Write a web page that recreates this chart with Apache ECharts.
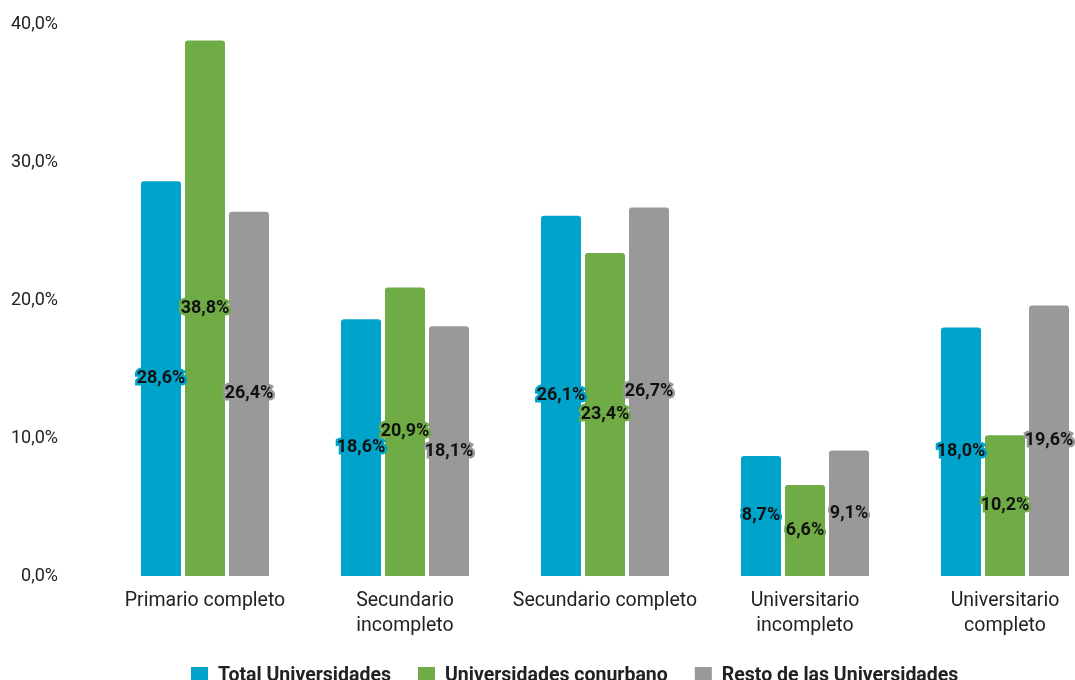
<!DOCTYPE html>
<html>
<head>
<meta charset="utf-8">
<script src="https://cdn.jsdelivr.net/npm/echarts@6/dist/echarts.min.js"></script>
<style>html,body{margin:0;padding:0;background:#fff;overflow:hidden}#c{width:1105px;height:680px}</style>
</head>
<body>
<div id="c"></div>
<script>
var categories = ['Primario completo', 'Secundario\nincompleto', 'Secundario completo', 'Universitario\nincompleto', 'Universitario\ncompleto'];
var seriesNames = ['Total Universidades', 'Universidades conurbano', 'Resto de las Universidades'];
var totalUniv = [28.6, 18.6, 26.1, 8.7, 18.0];
var conurbano = [38.8, 20.9, 23.4, 6.6, 10.2];
var resto = [26.4, 18.1, 26.7, 9.1, 19.6];
var colors = ['#00A3C9', '#6FAC46', '#999999'];
var yTicks = [0, 10, 20, 30, 40];

function fmt(v) { return v.toFixed(1).replace('.', ',') + '%'; }

var chart = echarts.init(document.getElementById('c'));
var data = [totalUniv, conurbano, resto];
chart.setOption({
  animation: false,
  textStyle: { fontFamily: 'Roboto' },
  grid: { left: 105, right: 0, top: 24, bottom: 104 },
  legend: {
    left: 186, top: 661, itemWidth: 17, itemHeight: 18, itemGap: 27,
    icon: 'rect',
    textStyle: { fontSize: 19.5, fontWeight: 'bold', color: '#222', fontFamily: 'Roboto', padding: [0, 0, 0, 5] },
    data: seriesNames
  },
  xAxis: {
    type: 'category', data: categories,
    axisLine: { show: false }, axisTick: { show: false },
    axisLabel: { fontSize: 19.5, color: '#222', margin: 13, lineHeight: 25, interval: 0 }
  },
  yAxis: {
    type: 'value', min: yTicks[0], max: yTicks[yTicks.length - 1], interval: 10,
    splitLine: { show: false }, axisLine: { show: false }, axisTick: { show: false },
    axisLabel: { fontSize: 18, color: '#222', margin: 47, formatter: function (v) { return fmt(v); } }
  },
  series: data.map(function (d, i) {
    return {
      name: seriesNames[i], type: 'bar', data: d, barWidth: 40, barGap: '10%',
      itemStyle: { color: colors[i], borderRadius: [3, 3, 0, 0] },
      label: {
        show: true, position: 'inside', fontSize: 18, fontWeight: 'bold', color: '#111',
        textBorderColor: colors[i], textBorderWidth: 5,
        formatter: function (p) { return fmt(p.value); }
      }
    };
  })
});
</script>
</body>
</html>
